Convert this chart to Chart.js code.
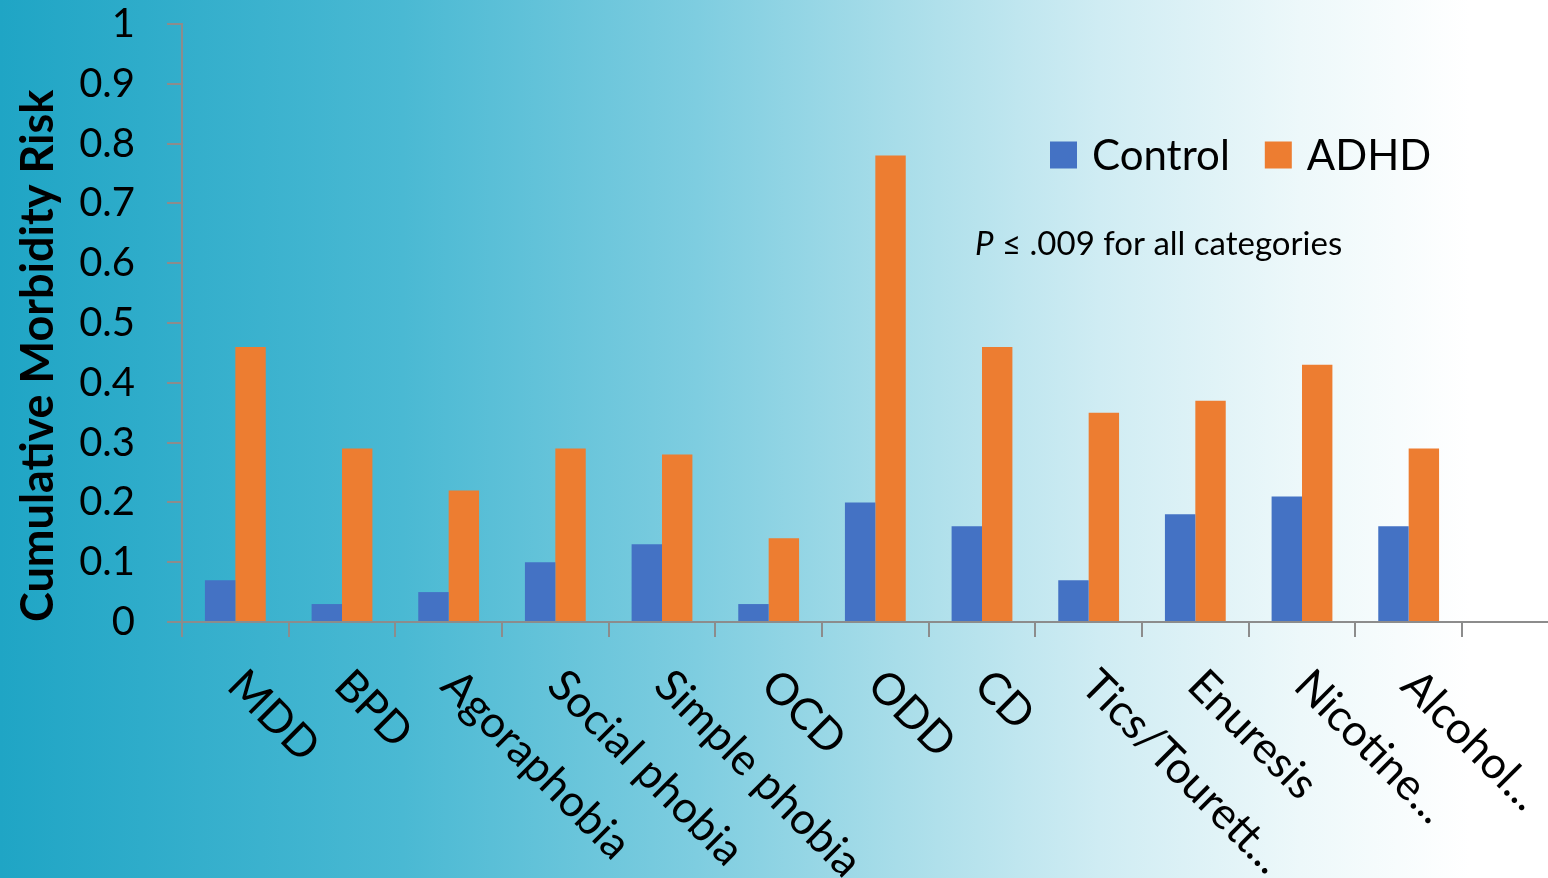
<!DOCTYPE html>
<html>
<head>
<meta charset="utf-8">
<script src="https://cdn.jsdelivr.net/npm/chart.js@4.4.1/dist/chart.umd.min.js"></script>
<style>
  html, body {
    margin: 0;
    padding: 0;
    overflow: hidden;
  }
  body {
    width: 1548px;
    height: 878px;
    background: linear-gradient(to right, #1fa5c5 0%, #4ab9d3 26%, #7ecde0 45%, #a8dde9 58%, #cfecf3 71%, #edf8fa 84%, #ffffff 95%);
  }
  #wrap {
    position: absolute;
    left: 0;
    top: 0;
    width: 1548px;
    height: 878px;
  }
</style>
</head>
<body>
<div id="wrap"><canvas id="morbidity"></canvas></div>
<script>
var categories = ["MDD", "BPD", "Agoraphobia", "Social phobia", "Simple phobia", "OCD",
                  "ODD", "CD", "Tics/Tourett...", "Enuresis", "Nicotine...", "Alcohol..."];
var control = [0.07, 0.03, 0.05, 0.10, 0.13, 0.03, 0.20, 0.16, 0.07, 0.18, 0.21, 0.16];
var adhd = [0.46, 0.29, 0.22, 0.29, 0.28, 0.14, 0.78, 0.46, 0.35, 0.37, 0.43, 0.29];
var yTitle = "Cumulative Morbidity Risk";
var noteItalic = "P";
var noteRest = " \u2264 .009 for all categories";

var axisGray = "#8c8c8c";

// x labels are turned clockwise, so Chart.js can't draw them itself
var slantedLabels = {
    id: "slantedLabels",
    afterDraw: function(chart) {
        var ctx = chart.ctx;
        var xs = chart.scales.x;
        ctx.save();
        ctx.font = "44px Lato";
        ctx.fillStyle = "#000000";
        ctx.textAlign = "left";
        ctx.textBaseline = "alphabetic";
        for (var i = 0; i < categories.length; i++) {
            var px = xs.getPixelForTick(i);
            ctx.save();
            ctx.translate(px - 10, xs.top + 66);
            ctx.rotate(Math.PI / 4);
            ctx.fillText(categories[i], 0, 0);
            ctx.restore();
        }
        ctx.restore();
    }
};

// axis line keeps running to the right edge past the last category
var axisRun = {
    id: "axisRun",
    afterDraw: function(chart) {
        var ctx = chart.ctx;
        var area = chart.chartArea;
        ctx.save();
        ctx.strokeStyle = axisGray;
        ctx.lineWidth = 2;
        ctx.beginPath();
        ctx.moveTo(area.right, area.bottom);
        ctx.lineTo(chart.width, area.bottom);
        ctx.stroke();
        ctx.restore();
    }
};

var legendAndNote = {
    id: "legendAndNote",
    afterDraw: function(chart) {
        var ctx = chart.ctx;
        ctx.save();
        ctx.font = "42px Lato";
        ctx.textBaseline = "middle";
        ctx.textAlign = "left";
        var x = 1050;
        var y = 155;
        chart.data.datasets.forEach(function(ds) {
            ctx.fillStyle = ds.backgroundColor;
            ctx.fillRect(x, y - 13.5, 27, 27);
            x += 27 + 15;
            ctx.fillStyle = "#000000";
            ctx.fillText(ds.label, x, y + 1);
            x += ctx.measureText(ds.label).width + 35;
        });

        ctx.textBaseline = "alphabetic";
        ctx.font = "italic 33px Lato";
        ctx.fillText(noteItalic, 975, 255);
        var w = ctx.measureText(noteItalic).width;
        ctx.font = "33px Lato";
        ctx.fillText(noteRest, 975 + w, 255);
        ctx.restore();
    }
};

var ctx = document.getElementById("morbidity").getContext("2d");
var chart = new Chart(ctx, {
    type: "bar",
    data: {
        labels: categories,
        datasets: [{
            label: "Control",
            data: control,
            backgroundColor: "#4472c4"
        }, {
            label: "ADHD",
            data: adhd,
            backgroundColor: "#ed7d31"
        }]
    },
    options: {
        responsive: true,
        maintainAspectRatio: false,
        animation: false,
        layout: {
            padding: { left: 0, top: 24, right: 86, bottom: 0 }
        },
        plugins: {
            legend: { display: false },
            tooltip: { enabled: false }
        },
        datasets: {
            bar: {
                categoryPercentage: 0.57,
                barPercentage: 1
            }
        },
        scales: {
            x: {
                afterFit: function(scale) { scale.height = 256; },
                ticks: { display: false },
                grid: {
                    offset: true,
                    drawOnChartArea: false,
                    drawTicks: true,
                    tickLength: 15,
                    color: axisGray,
                    lineWidth: 2
                },
                border: { color: axisGray, width: 2 }
            },
            y: {
                min: 0,
                max: 1,
                afterFit: function(scale) {
                    scale.width = 182;
                    // tick padding would otherwise push the plot top down
                    scale.paddingTop = 0;
                    scale.paddingBottom = 0;
                },
                ticks: {
                    stepSize: 0.1,
                    padding: 32,
                    color: "#000000",
                    font: { family: "Lato", size: 40 },
                    callback: function(v) { return String(+v.toFixed(1)); }
                },
                grid: {
                    drawOnChartArea: false,
                    drawTicks: true,
                    tickLength: 15,
                    color: axisGray,
                    lineWidth: 2
                },
                border: { color: axisGray, width: 2 },
                title: {
                    display: true,
                    text: yTitle,
                    align: "start",
                    color: "#000000",
                    font: { family: "Lato", size: 45, weight: "bold" },
                    padding: { top: 11, bottom: 0 }
                }
            }
        }
    },
    plugins: [slantedLabels, axisRun, legendAndNote]
});
</script>
</body>
</html>
